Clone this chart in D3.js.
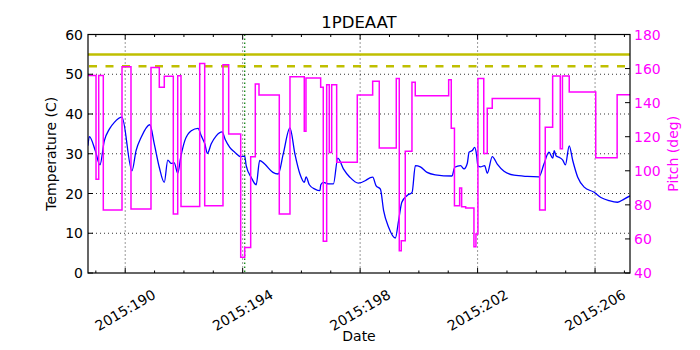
<!DOCTYPE html>
<html>
<head>
<meta charset="utf-8">
<script src="https://cdn.jsdelivr.net/npm/d3@7"></script>
<style>
  html, body { margin: 0; padding: 0; background: #fff; }
  svg { display: block; }
  text { font-family: "DejaVu Sans", sans-serif; }
</style>
</head>
<body>
<svg id="chart" width="700" height="350"></svg>
<script>
// ---------------- DATA ----------------
const title = "1PDEAAT";
const xLabel = "Date";
const yLabelLeft = "Temperature (C)";
const yLabelRight = "Pitch (deg)";

// Temperature series (day of year 2015, deg C)
const tempDays = [188.73,188.78,188.98,189.14,189.29,189.46,189.63,189.89,190.23,190.37,190.54,190.84,190.99,191.16,191.33,191.45,191.56,191.67,191.79,191.89,192.03,192.25,192.48,192.59,192.71,192.80,192.93,193.10,193.30,193.41,193.56,193.73,193.93,194.07,194.12,194.29,194.46,194.58,194.75,195.03,195.21,195.38,195.61,195.78,195.95,196.10,196.16,196.27,196.46,196.63,196.66,196.75,196.92,197.09,197.24,197.43,197.65,197.94,198.17,198.23,198.43,198.54,198.69,198.80,198.97,199.20,199.31,199.42,199.60,199.77,199.88,200.05,200.28,200.56,201.13,201.22,201.42,201.54,201.65,201.71,201.82,201.90,201.97,202.01,202.10,202.24,202.33,202.50,202.67,202.90,203.24,203.69,204.09,204.26,204.43,204.56,204.61,204.67,204.78,204.90,204.99,205.12,205.24,205.41,205.63,205.97,206.20,206.48,206.77,206.99,207.19];
const temps = [32.0,34.3,30.8,27.2,33.3,36.2,37.9,39.2,25.7,30.8,34.1,37.3,32.5,26.6,22.8,28.4,27.6,27.7,25.1,29.1,33.3,35.8,36.4,34.5,32.5,30.1,32.5,34.5,35.5,33.5,31.6,30.4,29.3,29.4,27.0,24.1,22.2,28.3,27.4,25.3,24.9,29.9,36.5,29.9,24.9,22.8,24.2,22.2,21.1,20.7,22.2,22.8,22.4,22.4,28.9,26.2,24.1,22.6,23.2,23.5,24.1,22.0,21.1,15.7,11.5,8.8,13.2,17.8,19.5,20.3,27.0,26.7,25.3,24.7,24.4,26.6,27.0,26.2,27.6,30.4,30.8,31.6,29.5,27.0,26.7,27.0,25.1,29.3,27.4,25.6,24.6,24.3,24.2,27.4,30.4,28.9,30.8,29.5,29.1,28.4,27.2,32.0,28.3,24.1,21.6,20.3,19.0,18.2,17.8,18.6,19.4];

// Pitch series (step changes: day, deg)
const pitchDays = [188.733,189.006,189.098,189.254,189.891,190.197,190.878,191.161,191.331,191.638,191.788,191.900,192.537,192.707,193.330,193.524,193.933,194.069,194.273,194.430,194.556,195.247,195.611,196.098,196.156,196.656,196.745,196.861,196.949,197.031,197.201,197.903,198.427,198.652,199.231,199.333,199.401,199.537,199.765,199.877,201.015,201.103,201.212,201.389,201.457,201.594,201.876,201.944,202.012,202.210,202.329,202.499,204.113,204.304,204.556,204.815,204.889,205.121,206.023,206.752,207.19];
const pitch = [156,95,156,77,161,77.5,160.7,149,155.5,74.6,155.8,79,163,79.5,162.2,121.6,49.2,55,108.3,150.9,144.5,74.6,155.2,123.2,154.4,149,58.6,150.5,110.8,150.5,105,144.5,152.5,113.4,154.2,53.1,59,111.4,151.9,144,153.4,124.9,79.5,89.9,78.9,78.1,55.4,62.9,154.2,110.2,136.7,142.5,77,125.5,155.6,113,155.6,146.2,107.6,144.7,144.7];

// Limits and reference lines
const tempLimitSolid = 55;
const tempLimitDashed = 52;
const markerDay = 194.07;

// Axis ticks
const xMajorTicks = [190,194,198,202,206];
const xMinorTicks = [189,190,191,192,193,194,195,196,197,198,199,200,201,202,203,204,205,206,207];
const yLeftTicks = [0,10,20,30,40,50,60];
const yRightTicks = [40,60,80,100,120,140,160,180];
const xDomain = [188.733, 207.19];

// ---------------- DRAW ----------------
const svg = d3.select("#chart");
const L = 88, R = 630, T = 34.5, B = 273;

const x = d3.scaleLinear().domain(xDomain).range([L, R]);
const yL = d3.scaleLinear().domain([0, 60]).range([B, T]);
const yR = d3.scaleLinear().domain([40, 180]).range([B, T]);

svg.append("defs").append("clipPath").attr("id", "clip")
  .append("rect").attr("x", L).attr("y", T).attr("width", R - L).attr("height", B - T);

// grid
const grid = svg.append("g");
grid.selectAll("line.hg").data(yLeftTicks.filter(d => d > 0 && d < 60)).join("line")
  .attr("x1", L).attr("x2", R).attr("y1", d => yL(d)).attr("y2", d => yL(d))
  .attr("stroke", "#000").attr("stroke-width", 0.8).attr("stroke-dasharray", "1,3");
grid.selectAll("line.vg").data(xMajorTicks).join("line")
  .attr("x1", d => x(d)).attr("x2", d => x(d)).attr("y1", T).attr("y2", B)
  .attr("stroke", "#000").attr("stroke-width", 0.8).attr("stroke-dasharray", "1,3");

const plot = svg.append("g").attr("clip-path", "url(#clip)");

// limit lines
plot.append("line").attr("x1", L).attr("x2", R)
  .attr("y1", yL(tempLimitSolid)).attr("y2", yL(tempLimitSolid))
  .attr("stroke", "#bfbf00").attr("stroke-width", 2.5);
plot.append("line").attr("x1", L + 1).attr("x2", R)
  .attr("y1", yL(tempLimitDashed)).attr("y2", yL(tempLimitDashed))
  .attr("stroke", "#bfbf00").attr("stroke-width", 2.5).attr("stroke-dasharray", "8,8.5");

// temperature
const tempData = tempDays.map((d, i) => [d, temps[i]]);
plot.append("path").datum(tempData)
  .attr("fill", "none").attr("stroke", "#0000ff").attr("stroke-width", 1.3)
  .attr("d", d3.line().x(d => x(d[0])).y(d => yL(d[1])).curve(d3.curveMonotoneX));

// marker line
plot.append("line").attr("x1", x(markerDay)).attr("x2", x(markerDay)).attr("y1", T).attr("y2", B)
  .attr("stroke", "#008000").attr("stroke-width", 1.2).attr("stroke-dasharray", "1.5,2.5");

// pitch
const pitchData = pitchDays.map((d, i) => [d, pitch[i]]);
plot.append("path").datum(pitchData)
  .attr("fill", "none").attr("stroke", "#ff00ff").attr("stroke-width", 1.5)
  .attr("d", d3.line().x(d => x(d[0])).y(d => yR(d[1])).curve(d3.curveStepAfter));

// frame
svg.append("rect").attr("x", L).attr("y", T).attr("width", R - L).attr("height", B - T)
  .attr("fill", "none").attr("stroke", "#000").attr("stroke-width", 1.2);

// ticks
const tk = svg.append("g").attr("stroke", "#000").attr("stroke-width", 1);
xMinorTicks.forEach(d => {
  const major = xMajorTicks.includes(d);
  const len = major ? 5 : 2.5;
  tk.append("line").attr("x1", x(d)).attr("x2", x(d)).attr("y1", B).attr("y2", B - len);
  tk.append("line").attr("x1", x(d)).attr("x2", x(d)).attr("y1", T).attr("y2", T + len);
});
yLeftTicks.forEach(d => {
  tk.append("line").attr("x1", L).attr("x2", L + 5).attr("y1", yL(d)).attr("y2", yL(d));
});
yRightTicks.forEach(d => {
  tk.append("line").attr("x1", R).attr("x2", R - 5).attr("y1", yR(d)).attr("y2", yR(d));
});

// tick labels
svg.append("g").selectAll("text").data(yLeftTicks).join("text")
  .attr("x", L - 5).attr("y", d => yL(d)).attr("dy", "0.36em")
  .attr("text-anchor", "end").attr("font-size", 14).attr("fill", "#000")
  .text(d => d);
svg.append("g").selectAll("text").data(yRightTicks).join("text")
  .attr("x", R + 4).attr("y", d => yR(d)).attr("dy", "0.36em")
  .attr("text-anchor", "start").attr("font-size", 14).attr("fill", "#ff00ff")
  .text(d => d);
svg.append("g").selectAll("text").data(xMajorTicks).join("text")
  .attr("transform", d => `translate(${x(d)},${B + 37}) rotate(-30)`)
  .attr("text-anchor", "middle").attr("dy", "0.36em")
  .attr("font-size", 14).attr("fill", "#000")
  .text(d => "2015:" + d);

// labels
svg.append("text").attr("x", (L + R) / 2).attr("y", 28).attr("text-anchor", "middle")
  .attr("font-size", 16.5).attr("fill", "#000").text(title);
svg.append("text").attr("x", (L + R) / 2).attr("y", 341).attr("text-anchor", "middle")
  .attr("font-size", 14).attr("fill", "#000").text(xLabel);
svg.append("text").attr("transform", `translate(56,${(T + B) / 2}) rotate(-90)`)
  .attr("text-anchor", "middle").attr("font-size", 14).attr("fill", "#000").text(yLabelLeft);
svg.append("text").attr("transform", `translate(678,${(T + B) / 2}) rotate(-90)`)
  .attr("text-anchor", "middle").attr("font-size", 14).attr("fill", "#ff00ff").text(yLabelRight);
</script>
</body>
</html>
